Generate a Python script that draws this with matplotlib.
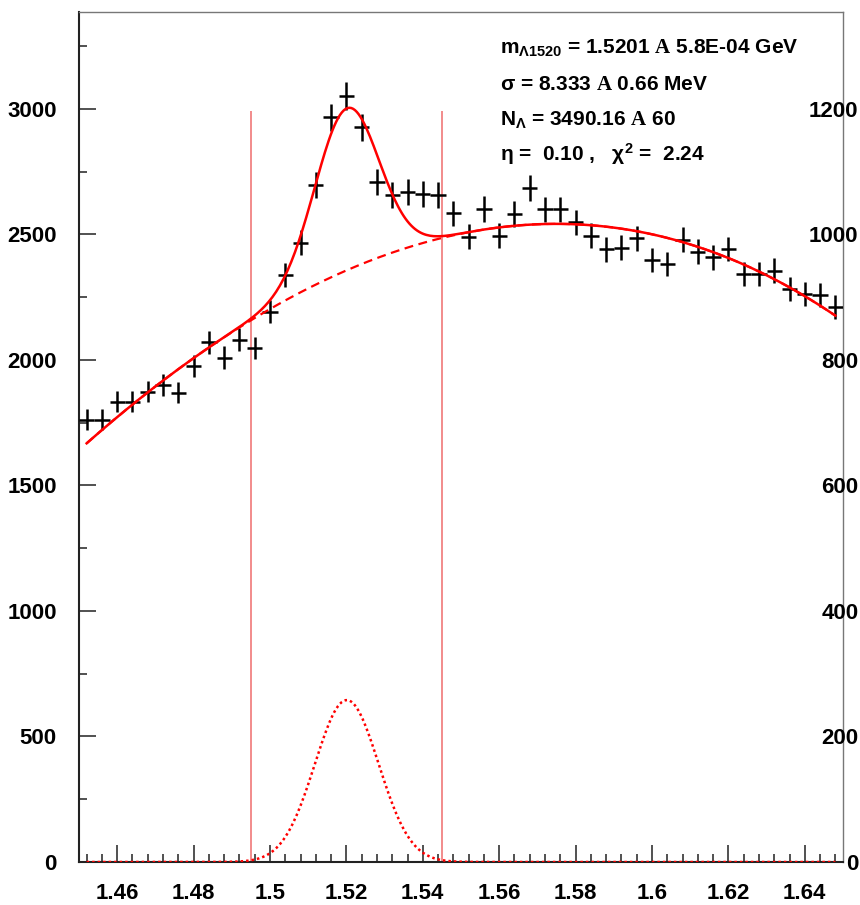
import numpy as np
import matplotlib
matplotlib.use('Agg')
import matplotlib.pyplot as plt
from matplotlib.ticker import MultipleLocator, FuncFormatter

plt.rcParams['font.family'] = ['Liberation Sans', 'DejaVu Sans']
plt.rcParams['font.weight'] = 'bold'
plt.rcParams['mathtext.fontset'] = 'custom'
plt.rcParams['mathtext.rm'] = 'Liberation Sans:bold'
plt.rcParams['mathtext.it'] = 'Liberation Sans:bold'
plt.rcParams['mathtext.bf'] = 'Liberation Sans:bold'
plt.rcParams['mathtext.sf'] = 'Liberation Serif'

# histogram, 50 bins of 4 MeV from 1.45 to 1.65 GeV
bin_lo = 1.45
bin_width = 0.004
counts = [1761, 1761, 1834, 1834, 1874, 1900, 1870, 1976, 2070, 2009,
          2080, 2047, 2192, 2339, 2467, 2697, 2967, 3052, 2926, 2710,
          2657, 2668, 2660, 2658, 2584, 2491, 2602, 2494, 2582, 2684,
          2600, 2600, 2548, 2494, 2441, 2447, 2485, 2398, 2382, 2478,
          2431, 2409, 2442, 2343, 2341, 2356, 2282, 2262, 2259, 2210]

# background (dashed)
bg_x = [1.4518, 1.495, 1.521, 1.5419, 1.5646, 1.5742, 1.5803,
        1.5942, 1.6003, 1.6143, 1.6264, 1.6483]
bg_y = [1665, 2164, 2347, 2481, 2538, 2544, 2542,
        2515, 2505, 2438, 2352, 2179]

# gaussian signal
peak_mean = 1.5201
peak_sigma = 0.008333
peak_amp = 645

fit_lo, fit_hi = 1.452, 1.648

# signal window lines
cut_x = [1.495, 1.545]
cut_top = 2990

ymax = 3386
right_scale = 0.4

info_lines = [
    r"m$_{Λ1520}$ = 1.5201 $\mathsf{A}$ 5.8E-04 GeV",
    r"σ = 8.333 $\mathsf{A}$ 0.66 MeV",
    r"N$_{Λ}$ = 3490.16 $\mathsf{A}$ 60",
    r"η =  0.10 ,   χ$^{2}$ =  2.24",
]
info_y = [3218, 3074, 2934, 2795]

fig = plt.figure(figsize=(8.6, 9.05), dpi=100)
ax = fig.add_axes([79 / 860, 43 / 905, 764 / 860, 850 / 905])

centers = bin_lo + bin_width * (np.arange(len(counts)) + 0.5)
counts = np.array(counts, dtype=float)
ax.errorbar(centers, counts, xerr=bin_width / 2, yerr=np.sqrt(counts),
            fmt='none', ecolor='black', elinewidth=1.8, capsize=0, zorder=3)

# fit curves
coef = np.polyfit(np.array(bg_x) - 1.55, bg_y, 3)
xf = np.linspace(fit_lo, fit_hi, 400)
bg = np.polyval(coef, xf - 1.55)
sig = peak_amp * np.exp(-0.5 * ((xf - peak_mean) / peak_sigma) ** 2)

ax.plot(xf, bg, color='red', lw=1.6, ls=(0, (4, 2.5)), zorder=4)
ax.plot(xf, sig, color='red', lw=1.8, ls=(0, (1, 1.2)), zorder=4)
ax.plot(xf, bg + sig, color='red', lw=1.8, zorder=5)

ax.vlines(cut_x, 0, cut_top, color='#f07878', lw=1.2, zorder=2)

ax.set_xlim(1.45, 1.65)
ax.set_ylim(0, ymax)

ax.xaxis.set_major_locator(MultipleLocator(0.02))
ax.xaxis.set_minor_locator(MultipleLocator(0.004))
ax.xaxis.set_major_formatter(FuncFormatter(lambda v, p: '%g' % round(v, 3)))
ax.yaxis.set_major_locator(MultipleLocator(500))
ax.yaxis.set_minor_locator(MultipleLocator(250))

ax.tick_params(axis='both', which='both', direction='in', top=False, right=False,
               labelsize=16, color='#333333')
ax.tick_params(axis='both', which='major', length=12, width=1.2)
ax.tick_params(axis='both', which='minor', length=6, width=1.2)
ax.tick_params(axis='x', pad=15)
ax.tick_params(axis='y', pad=16)

for s in ['left', 'bottom']:
    ax.spines[s].set_linewidth(1.5)
    ax.spines[s].set_color('#222222')
for s in ['top', 'right']:
    ax.spines[s].set_linewidth(1.0)
    ax.spines[s].set_color('#777777')

# right hand axis
ax2 = ax.twinx()
ax2.set_ylim(0, ymax * right_scale)
ax2.set_yticks(np.arange(0, 1201, 200))
ax2.tick_params(axis='y', length=0, pad=11, labelsize=16)
for t in ax2.get_yticklabels():
    t.set_ha('right')
for s in ax2.spines.values():
    s.set_visible(False)

for txt, yy in zip(info_lines, info_y):
    ax.text(1.5601, yy, txt, fontsize=15, fontweight='bold', ha='left', va='baseline')

fig.savefig('out.png', dpi=100)
